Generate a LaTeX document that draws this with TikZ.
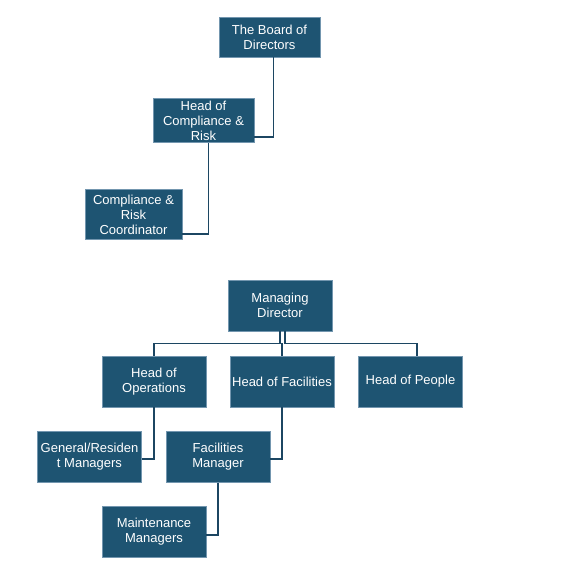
\documentclass[tikz,border=0pt]{standalone}
\usepackage{fontspec}
\setmainfont{Liberation Sans}
\definecolor{boxfill}{RGB}{30,84,114}
\definecolor{boxline}{RGB}{115,150,175}
\definecolor{wire}{RGB}{28,70,98}

\begin{document}
\begin{tikzpicture}
    [x = 1pt, y = -1pt, every node/.style = {rectangle, draw = boxline, line width = .6pt, fill = boxfill, text = white,
      align = center, inner sep = 0pt, minimum width = 104pt, minimum height = 51pt,
      font = \fontsize{13}{15}\selectfont}]
    \useasboundingbox (0,0) rectangle (566,573);
    % upper chart
    \node[minimum width = 101pt, minimum height = 40pt] (board) at (269.5,37) {The Board of\\Directors};
    \node[minimum width = 101pt, minimum height = 44pt] (hoc) at (203.5,120.5) {Head of\\Compliance \&\\Risk};
    \node[minimum width = 97pt, minimum height = 50pt] (coord) at (133.5,214.5) {Compliance \&\\Risk\\Coordinator};
    % lower chart
    \node (md) at (280,305.5) {Managing\\Director};
    \node (hoo) at (154,381.5) {Head of\\Operations};
    \node (hof) at (282,381.5) {Head of Facilities};
    \node (hop) at (410.5,381.5) {Head of People};
    \node (gm) at (89.5,457) {General/Residen\\t Managers};
    \node (fm) at (218,457) {Facilities\\Manager};
    \node (mm) at (154,532) {Maintenance\\Managers};
    \begin{scope}[draw = wire, line width = 1.6pt]
      \draw ([xshift = 4pt]board.south) |- ([yshift = 6pt]hoc.south east);
      \draw ([xshift = 5pt]hoc.south) |- ([yshift = 6pt]coord.south east);
      \draw (md.south) -- ++(0,12) -| (hoo.north);
      \draw ([xshift = 5pt]md.south) -- ++(0,12) -| ([xshift = 6.5pt]hop.north);
      \draw ([yshift = -12pt]md.south -| hof.north) -- (hof.north);
      \foreach \from/ \to/ \dy in {hoo/gm/2, hof/fm/2, fm/mm/3}
        \draw (\from.south) |- ([yshift = -\dy pt]\to.east);
    \end{scope}
  \end{tikzpicture}
\end{document}
